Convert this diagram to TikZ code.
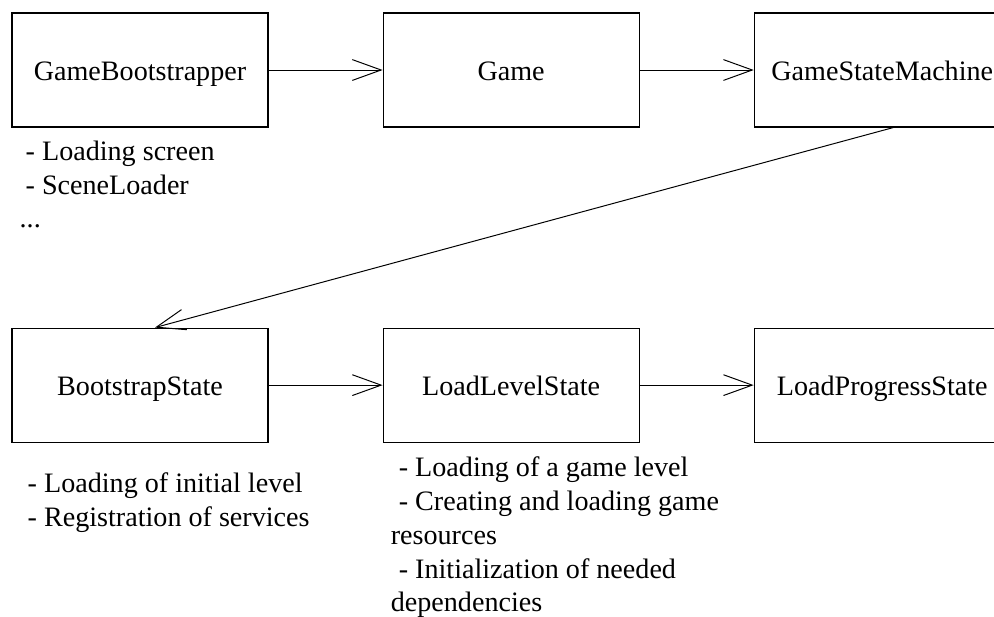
\documentclass[tikz,border=0pt]{standalone}
\usepackage{fontspec}
\setmainfont{Liberation Serif}
\usetikzlibrary{positioning, arrows.meta}

\begin{document}
\begin{tikzpicture}[
        % Style definitions
        state/.style={
            rectangle,
            draw=black,
            line width=0.8pt,
            minimum width=6.4cm,
            minimum height=2.85cm,
            text height=0.6cm,
            text depth=0.1cm,
            align=center,
            font=\fontsize{20}{24}\selectfont
        },
        note/.style={
            inner sep=0pt,
            align=left,
            font=\fontsize{20}{24}\selectfont
        },
        arrow/.style={
            -{Straight Barb[length=0.72cm, width=0.52cm]},
            line width=0.7pt
        }
    ]

        % Fixed frame (cuts the right-hand boxes)
        \useasboundingbox (0,0) rectangle (24.85,-15.4);

        % ==========================================
        % Nodes / Blocks Placement
        % ==========================================
        % Upper row
        \node (bootstrapper) [state] at (3.5,-1.75) {GameBootstrapper};
        \node (game) [state, right=2.85cm of bootstrapper] {Game};
        \node (machine) [state, right=2.85cm of game] {GameStateMachine};

        % Lower row
        \node (bootstate) [state, below=5cm of bootstrapper] {BootstrapState};
        \node (loadlevel) [state, right=2.85cm of bootstate] {LoadLevelState};
        \node (progress) [state, right=2.85cm of loadlevel] {LoadProgressState};

        % Notes under the blocks
        \node (gbnotes) [note, below right=0.325cm and 0.2cm of bootstrapper.south west]
            {\hspace*{0.15cm}- Loading screen\\ \hspace*{0.15cm}- SceneLoader\\ ...};
        \node (bsnotes) [note, below right=0.75cm and 0.4cm of bootstate.south west]
            {- Loading of initial level\\ - Registration of services};
        \node (llnotes) [note, below right=0.35cm and 0.2cm of loadlevel.south west]
            {\hspace*{0.2cm}- Loading of a game level\\
             \hspace*{0.2cm}- Creating and loading game\\ resources\\
             \hspace*{0.2cm}- Initialization of needed\\ dependencies};

        % ==========================================
        % Connections / Arrows
        % ==========================================
        \draw [arrow] (bootstrapper.east) -- (game.west);
        \draw [arrow] (game.east) -- (machine.west);

        % Back down to the lower row
        \draw [arrow] ([xshift=0.275cm]machine.south) -- ([xshift=0.375cm]bootstate.north);

        \draw [arrow] (bootstate.east) -- (loadlevel.west);
        \draw [arrow] (loadlevel.east) -- (progress.west);

    \end{tikzpicture}
\end{document}
